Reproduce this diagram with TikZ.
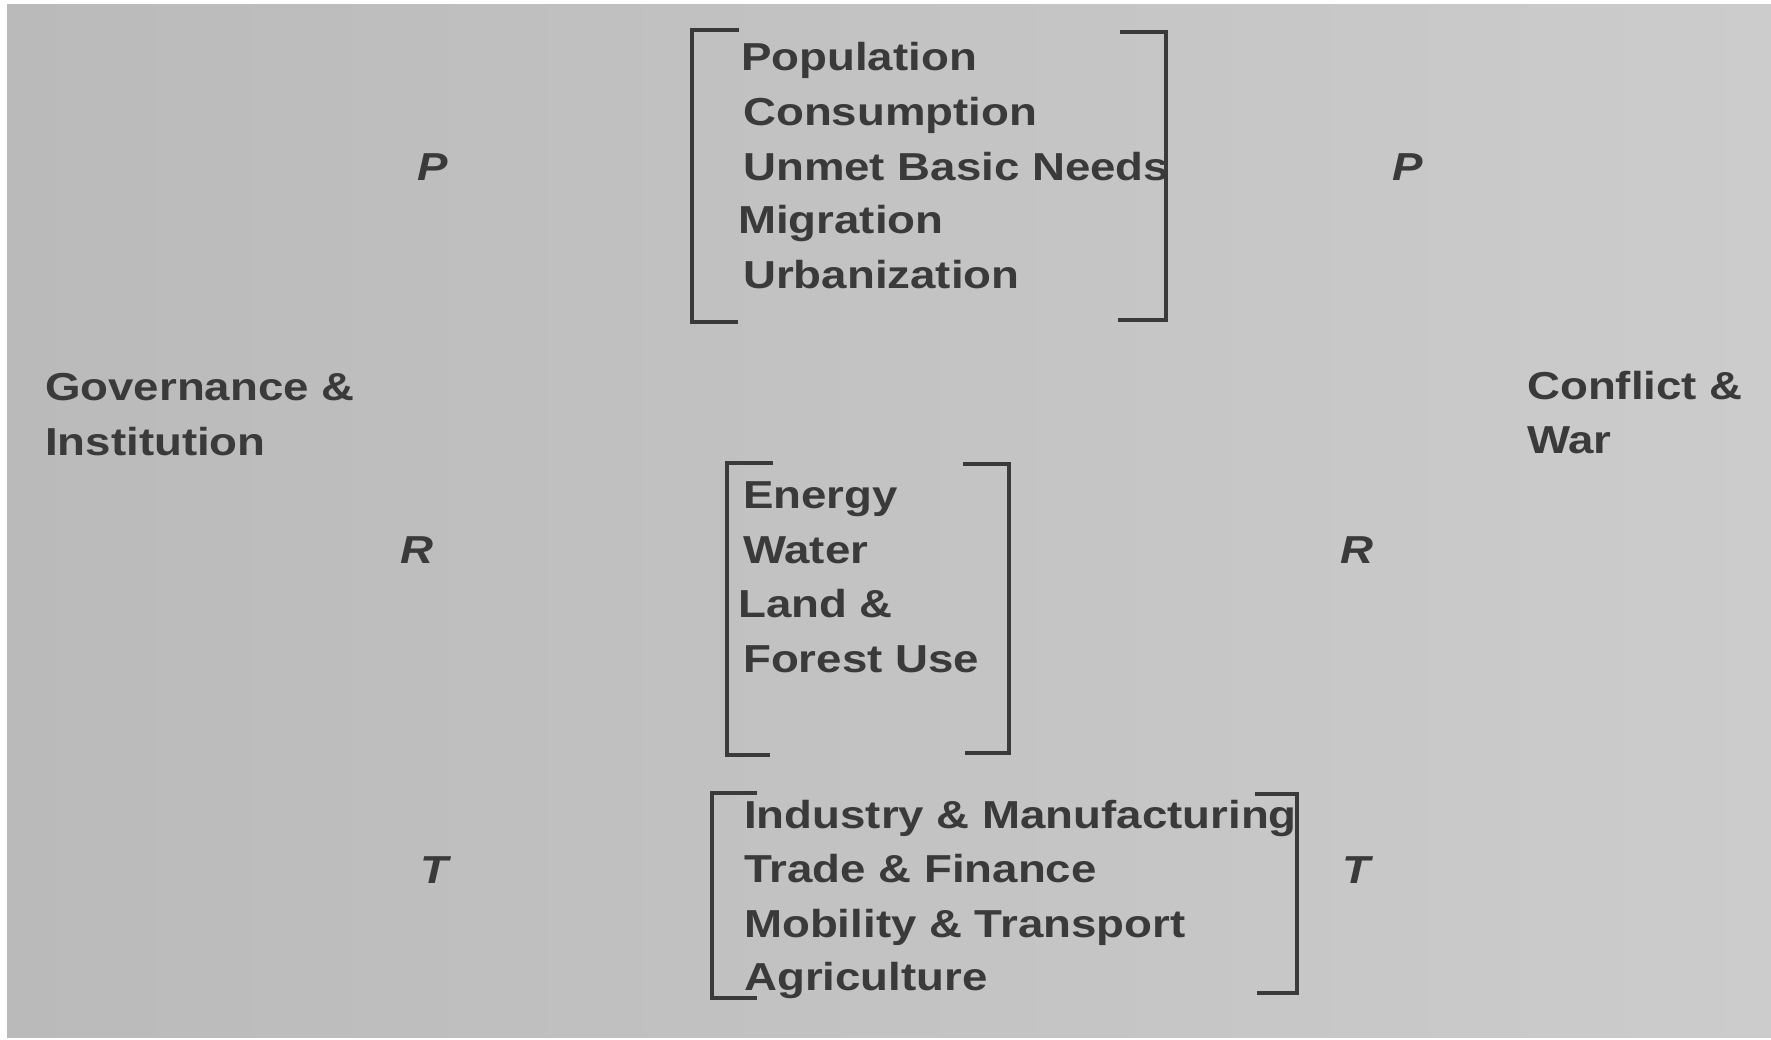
\documentclass[tikz,border=0pt]{standalone}
\usepackage{fontspec}
\setmainfont{Liberation Sans}[FakeStretch=1.17]
\definecolor{ink}{RGB}{58,58,58}
\definecolor{bgL}{RGB}{186,186,186}
\definecolor{bgR}{RGB}{204,204,204}
\tikzset{
  lbl/.style={anchor=base west, inner sep=0pt, text=ink, font=\fontsize{39}{55}\selectfont\bfseries},
  ital/.style={lbl, font=\fontsize{39}{55}\selectfont\bfseries\itshape},
  brk/.style={draw=ink, line width=4pt, line join=miter}
}
\begin{document}
\begin{tikzpicture}[x=1pt,y=-1pt]
\useasboundingbox (0,0) rectangle (1771,1039);
\fill[white] (0,0) rectangle (1771,1039);
\shade[left color=bgL, right color=bgR] (7,4) rectangle (1771,1037);
% top block
\node[lbl] (pop) at (741,70) {Population};
\node[lbl] (con) at (743,125) {Consumption};
\node[lbl] (ubn) at (743,180) {Unmet Basic Needs};
\node[lbl] (mig) at (738,233) {Migration};
\node[lbl] (urb) at (743,288) {Urbanization};
\draw[brk] (739,30) -- (692,30) -- (692,322) -- (738,322);
\draw[brk] (1120,32) -- (1166,32) -- (1166,320) -- (1118,320);
% middle block
\node[lbl] (ene) at (743,508) {Energy};
\node[lbl] (wat) at (743,563) {Water};
\node[lbl] (lan) at (738,617) {Land \&};
\node[lbl] (for) at (743,672) {Forest Use};
\draw[brk] (773,463) -- (727,463) -- (727,755) -- (770,755);
\draw[brk] (963,464) -- (1009,464) -- (1009,753) -- (965,753);
% bottom block
\node[lbl] (ind) at (744,828) {Industry \& Manufacturing};
\node[lbl] (tra) at (744,882) {Trade \& Finance};
\node[lbl] (mob) at (744,937) {Mobility \& Transport};
\node[lbl] (agr) at (744,990) {Agriculture};
\draw[brk] (757,793) -- (712,793) -- (712,998) -- (757,998);
\draw[brk] (1255,794) -- (1297,794) -- (1297,993) -- (1257,993);
% side labels
\node[lbl] (gov) at (45,400) {Governance \&};
\node[lbl] (ins) at (45,455) {Institution};
\node[lbl] (cnf) at (1527,399) {Conflict \&};
\node[lbl] (war) at (1527,453) {War};
\node[ital] (pl) at (417,180) {P};
\node[ital] (pr) at (1392,180) {P};
\node[ital] (rl) at (400,563) {R};
\node[ital] (rr) at (1340,563) {R};
\node[ital] (tl) at (420,883) {T};
\node[ital] (tr) at (1342,883) {T};
\end{tikzpicture}
\end{document}
